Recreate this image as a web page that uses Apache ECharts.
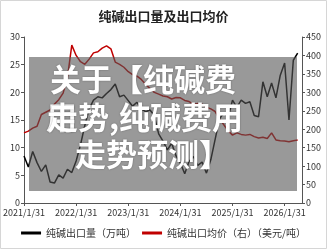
<!DOCTYPE html>
<html>
<head>
<meta charset="utf-8">
<script src="https://cdn.jsdelivr.net/npm/echarts@6/dist/echarts.min.js"></script>
<style>
  html, body { margin: 0; padding: 0; background: #fff; }
  #chart_main { width: 327px; height: 249px; }
</style>
</head>
<body>
<div id="chart_main"></div>
<script>
// month-end dates, 2021/1/31 .. 2026/5/31
const monthEnds = []
for (let y = 2021; y <= 2026; y++) {
  for (let m = 1; m <= 12; m++) {
    if (y === 2026 && m > 5) break
    const last = new Date(y, m, 0).getDate()
    monthEnds.push(y + '/' + m + '/' + last)
  }
}

// 纯碱出口量（万吨）
const exportVolume = [
  8.5, 6.5, 9.3, 7.3, 5.7, 6.9, 3.8, 3.6, 5.1, 4.5, 6.1, 5.5,
  7.6, 10.5, 14.0, 17.0, 18.6, 19.2, 19.0, 19.8, 20.5, 21.5, 19.2, 19.5,
  18.5, 17.5, 18.2, 17.0, 16.5, 16.8, 15.8, 12.5, 11.2, 9.6, 10.8, 8.5,
  7.2, 5.3, 7.5, 8.4, 6.8, 7.4, 5.4, 7.8, 11.5, 15.2, 16.3, 15.5,
  18.6, 17.3, 18.6, 18.0, 18.3, 15.8, 15.6, 21.9, 19.2, 21.7, 19.0, 23.1,
  25.3, 15.0, 25.8, 27.1
]

// 纯碱出口均价（美元/吨）
const exportPrice = [
  190, 195, 203, 208, 240, 246, 252, 268, 280, 298, 340, 428,
  400, 383, 376, 390, 407, 410, 420, 426, 418, 382, 376, 368,
  356, 348, 344, 335, 322, 310, 300, 295, 290, 288, 282, 286,
  285, 278, 275, 268, 270, 268, 260, 255, 248, 228, 212, 196,
  184, 190, 186, 184, 186, 180, 176, 178, 175, 190, 171, 169,
  168, 166, 169, 171
]

const overlayLines = ['关于【纯碱费', '走势,纯碱费用', '走势预测】']

const chart = echarts.init(document.getElementById('chart_main'))

const labelStyle = { fontSize: 9, color: '#333', fontFamily: 'Noto Sans CJK SC' }
const axisLineStyle = { lineStyle: { color: '#555', width: 1 } }

const bigText = {
  fill: '#fff',
  font: 'bold 31px "Noto Sans CJK SC"',
  textShadowColor: 'rgba(0,0,0,0.35)',
  textShadowBlur: 2
}

chart.setOption({
  animation: false,
  title: {
    text: '纯碱出口量及出口均价',
    left: 'center',
    top: 5,
    textStyle: { fontSize: 13, fontWeight: 'bold', color: '#222', fontFamily: 'Noto Sans CJK SC' }
  },
  legend: {
    bottom: 6,
    left: 'center',
    icon: 'rect',
    itemWidth: 20,
    itemHeight: 3,
    itemGap: 6,
    textStyle: { fontSize: 10, color: '#333', fontFamily: 'Noto Sans CJK SC' },
    data: ['纯碱出口量（万吨）', '纯碱出口均价（右）（美元/吨）']
  },
  grid: { left: 22, right: 25, top: 37, bottom: 46 },
  xAxis: {
    type: 'category',
    boundaryGap: false,
    data: monthEnds,
    axisLine: axisLineStyle,
    axisTick: { interval: 11, length: 3, lineStyle: { color: '#555' } },
    axisLabel: Object.assign({ interval: 11, margin: 5 }, labelStyle)
  },
  yAxis: [
    {
      type: 'value',
      min: 0,
      max: 30,
      interval: 5,
      splitLine: { show: false },
      axisLine: Object.assign({ show: true }, axisLineStyle),
      axisTick: { show: true, length: 3, lineStyle: { color: '#555' } },
      axisLabel: Object.assign({ margin: 4 }, labelStyle)
    },
    {
      type: 'value',
      min: 0,
      max: 450,
      interval: 50,
      splitLine: { show: false },
      axisLine: Object.assign({ show: true }, axisLineStyle),
      axisTick: { show: true, length: 3, lineStyle: { color: '#555' } },
      axisLabel: Object.assign({ margin: 4 }, labelStyle)
    }
  ],
  series: [
    {
      name: '纯碱出口量（万吨）',
      type: 'line',
      data: exportVolume,
      showSymbol: false,
      itemStyle: { color: '#000' },
      lineStyle: { color: '#000', width: 1.5 }
    },
    {
      name: '纯碱出口均价（右）（美元/吨）',
      type: 'line',
      yAxisIndex: 1,
      data: exportPrice,
      showSymbol: false,
      itemStyle: { color: '#c00000' },
      lineStyle: { color: '#c00000', width: 1.5 }
    }
  ],
  graphic: [
    {
      type: 'rect',
      silent: true,
      z: 0,
      shape: { x: 0.5, y: 0.5, width: 326, height: 248 },
      style: { fill: 'none', stroke: '#d6d6d6', lineWidth: 1 }
    },
    {
      type: 'rect',
      silent: true,
      z: 100,
      shape: { x: 29, y: 57, width: 268, height: 134 },
      style: { fill: 'rgba(85,85,85,0.6)' }
    },
    {
      type: 'text',
      z: 101,
      left: 50,
      top: 64,
      style: Object.assign({ text: overlayLines[0] }, bigText)
    },
    {
      type: 'text',
      z: 101,
      left: 46,
      top: 102,
      style: Object.assign({ text: '用' }, bigText)
    },
    {
      type: 'text',
      z: 101,
      left: 47,
      top: 102,
      style: Object.assign({ text: overlayLines[1] }, bigText)
    },
    {
      type: 'text',
      z: 101,
      left: 75,
      top: 139,
      style: Object.assign({ text: overlayLines[2] }, bigText)
    }
  ]
})
</script>
</body>
</html>
